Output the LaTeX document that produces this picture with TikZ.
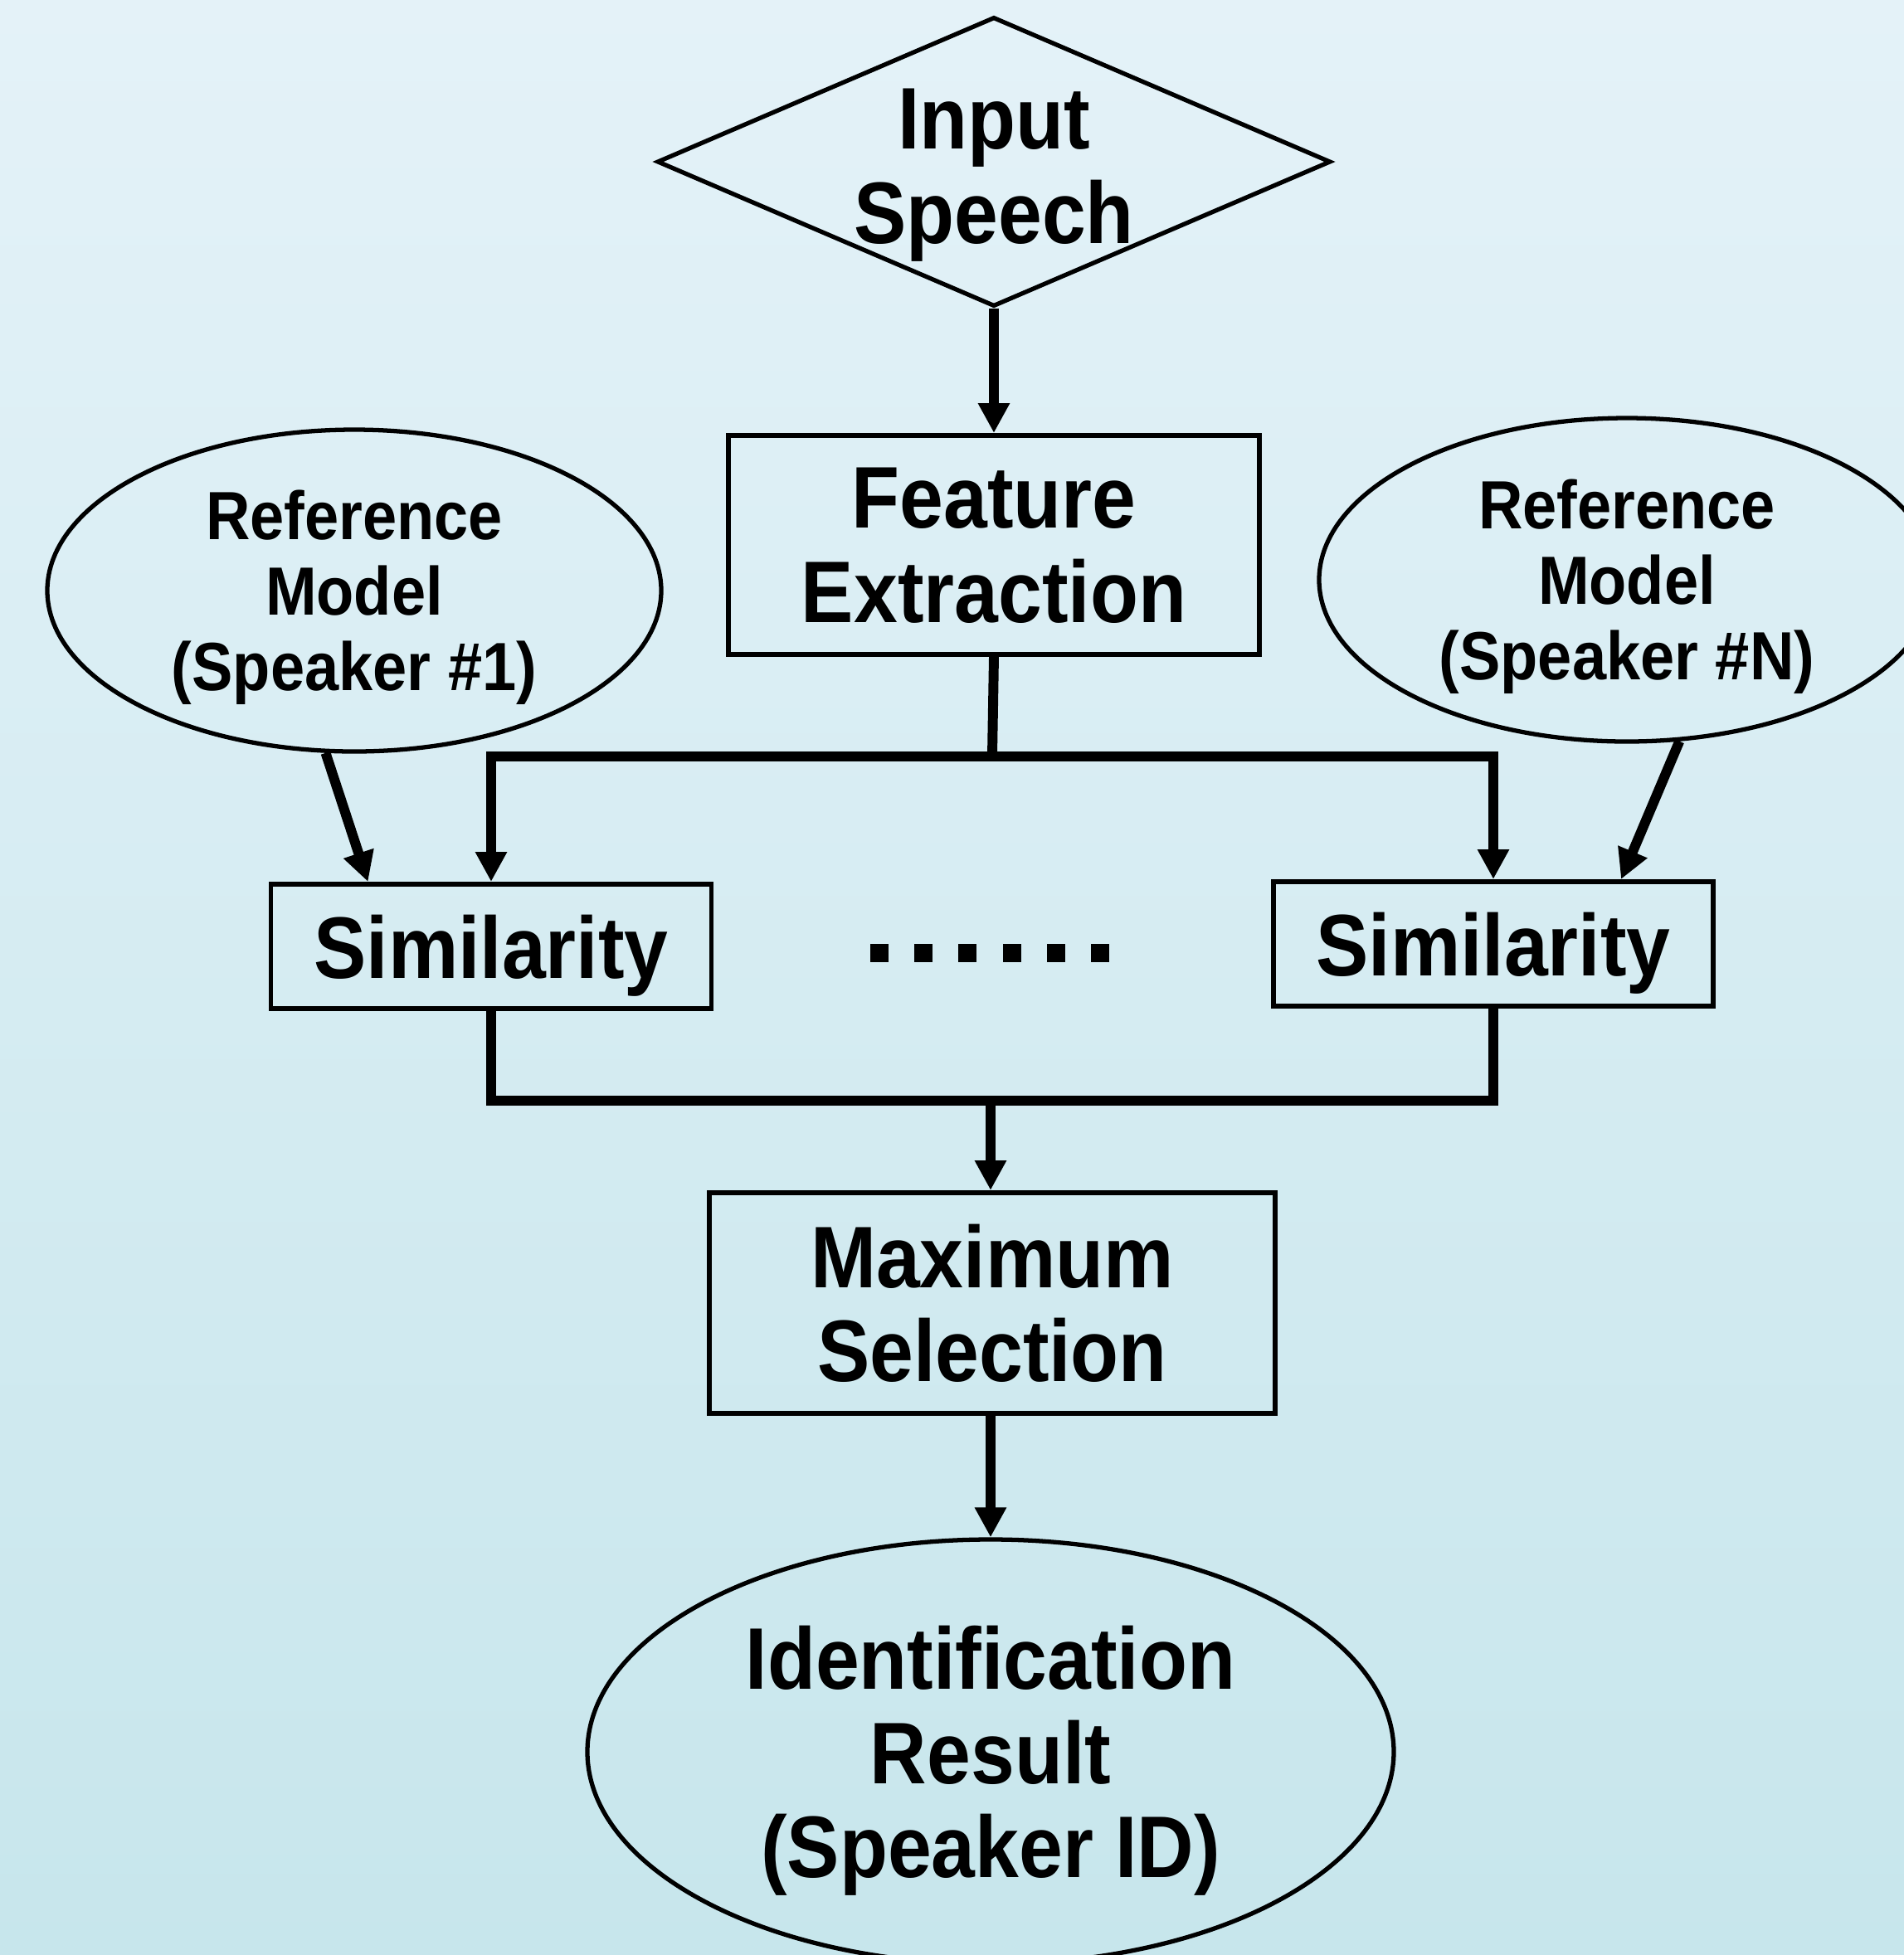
\documentclass[tikz,border=0pt]{standalone}
\usepackage{fontspec}
\setmainfont{Liberation Sans}[FakeStretch=0.9]
\usetikzlibrary{shapes.geometric,arrows.meta}

\definecolor{fondoarriba}{RGB}{228,242,248}
\definecolor{fondoabajo}{RGB}{199,230,236}

\tikzset{
	textogrande/.style={font=\fontsize{30pt}{32.3pt}\selectfont\bfseries, align=center},
	textochico/.style={font=\fontsize{23.4pt}{25.9pt}\selectfont\bfseries, align=center},
	caja/.style={draw, line width=1.7pt, rectangle, inner sep=0pt, text depth=0pt, textogrande},
	modelo/.style={draw, line width=1.5pt, ellipse, inner sep=0pt, text depth=0pt, textochico},
	decision/.style={draw, line width=1.5pt, diamond, inner sep=0pt, minimum width=8.12cm, minimum height=3.49cm},
	flecha/.style={line width=3.4pt, -{Triangle[length=0.36cm, width=0.36cm]}},
	bus/.style={line width=3.4pt}
}

\begin{document}
\begin{tikzpicture}
		% Fondo
		\shade[top color=fondoarriba, bottom color=fondoabajo] (0,0) rectangle (22.95,-23.57);
		\useasboundingbox (0,0) rectangle (22.95,-23.57);
		
		% Entrada y extraccion
		\node[decision] (speech) at (11.98,-1.95) {};
		\node[textogrande] (speechtext) at ([yshift=-0.16cm]speech.center) {Input\\Speech};
		\node[caja, minimum width=6.40cm, minimum height=2.64cm] (feature) at (11.98,-6.57) {Feature\\Extraction};
		
		% Modelos de referencia
		\node[modelo, minimum width=7.40cm, minimum height=3.88cm] (ref1) at (4.27,-7.12) {Reference\\Model\\(Speaker \#1)};
		\node[modelo, minimum width=7.42cm, minimum height=3.90cm] (refN) at (19.61,-6.99) {Reference\\Model\\(Speaker \#N)};
		
		% Bloques de similitud
		\node[caja, minimum width=5.31cm, minimum height=1.50cm] (sim1) at (5.92,-11.41) {Similarity};
		\node[caja, minimum width=5.30cm, minimum height=1.50cm] (simN) at (18.00,-11.38) {Similarity};
		\foreach \i in {0,...,5}
			\fill (10.49+0.532*\i,-11.38) rectangle ++(0.22,-0.22);
		
		% Seleccion y resultado
		\node[caja, minimum width=6.82cm, minimum height=2.66cm] (maxsel) at (11.96,-15.71) {Maximum\\Selection};
		\node[modelo, textogrande, text depth=0pt, minimum width=9.72cm, minimum height=5.12cm] (result) at (11.94,-21.12) {Identification\\Result\\(Speaker ID)};
		
		% Conexiones
		\coordinate (topbus) at (11.96,-9.12);
		\coordinate (botbus) at (11.94,-13.27);
		\draw[flecha] (speech.south) -- (feature.north);
		\draw[bus] (feature.south) -- (topbus);
		\draw[flecha] (topbus) -| (sim1.north);
		\draw[flecha] (topbus) -| (simN.north);
		\draw[flecha] (ref1.-100) -- ([xshift=1.2cm]sim1.north west);
		\draw[flecha] (refN.-72) -- ([xshift=-1.14cm]simN.north east);
		\draw[bus] (sim1.south) |- (botbus) -| (simN.south);
		\draw[flecha] (botbus) -- (botbus |- maxsel.north);
		\draw[flecha] (maxsel.south -| result.north) -- (result.north);
		
	\end{tikzpicture}
\end{document}
